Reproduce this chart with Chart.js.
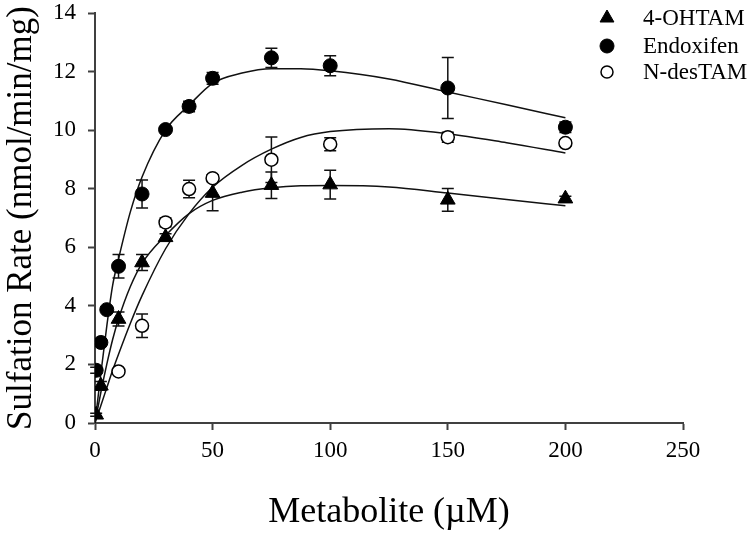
<!DOCTYPE html>
<html>
<head>
<meta charset="utf-8">
<script src="https://cdn.jsdelivr.net/npm/chart.js@4.4.1/dist/chart.umd.min.js"></script>
<style>
html, body { margin: 0; padding: 0; background: #fff; }
#wrap { width: 752px; height: 534px; }
</style>
</head>
<body>
<div id="wrap"><canvas id="chart" width="752" height="534"></canvas></div>
<script>
// measured points (mean ± error)
const concOH = [0.5, 2.5, 10, 20, 30, 50, 75, 100, 150, 200];
const rateOH = [0.28, 1.27, 3.55, 5.48, 6.34, 7.85, 8.12, 8.14, 7.62, 7.66];
const errOH  = [0.05, 0.15, 0.24, 0.27, 0.12, 0.6, 0.45, 0.49, 0.39, 0.08];

const concEndox = [0.5, 2.5, 5, 10, 20, 30, 40, 50, 75, 100, 150, 200];
const rateEndox = [1.8, 2.75, 3.87, 5.35, 7.82, 10.02, 10.81, 11.77, 12.47, 12.2, 11.44, 10.1];
const errEndox  = [0.1, 0.05, 0.1, 0.4, 0.48, 0.1, 0.18, 0.2, 0.33, 0.34, 1.04, 0.18];

const concNdes = [10, 20, 30, 40, 50, 75, 100, 150, 200];
const rateNdes = [1.76, 3.32, 6.85, 7.99, 8.36, 8.99, 9.52, 9.76, 9.56];
const errNdes  = [0.1, 0.4, 0.15, 0.3, 0.12, 0.78, 0.22, 0.17, 0.1];

// fitted curves
const fitX     = [0, 2.5, 5, 7.5, 10, 15, 20, 30, 40, 50, 62.5, 75, 87.5, 100, 125, 150, 175, 200];
const fitOH    = [0, 1.05, 2.0, 2.85, 3.55, 4.65, 5.45, 6.4, 7.15, 7.6, 7.88, 8.03, 8.1, 8.11, 8.06, 7.85, 7.63, 7.42];
const fitEndox = [0, 1.7, 3.3, 4.7, 5.6, 7.2, 8.4, 10.0, 10.85, 11.6, 11.95, 12.1, 12.1, 12.03, 11.75, 11.3, 10.87, 10.42];
const fitNdes  = [0, 0.6, 1.2, 1.8, 2.35, 3.4, 4.35, 5.95, 7.15, 8.05, 8.8, 9.35, 9.75, 9.95, 10.05, 9.88, 9.57, 9.22];

const labels = ['4-OHTAM', 'Endoxifen', 'N-desTAM'];

const serif = "'Liberation Serif', 'Times New Roman', serif";
const axisColor = '#404040';

function pts(xs, ys) {
    return xs.map((x, i) => ({x: x, y: ys[i]}));
}

function curve(ys) {
    return {
        data: pts(fitX, ys),
        showLine: true,
        borderColor: '#111',
        borderWidth: 1.5,
        pointRadius: 0,
        cubicInterpolationMode: 'monotone',
        fill: false,
        isFit: true
    };
}

// error bars, drawn under the markers
const errorBars = {
    id: 'errorBars',
    beforeDatasetsDraw(chart) {
        const ctx = chart.ctx;
        const xs = chart.scales.x, ys = chart.scales.y;
        ctx.save();
        ctx.strokeStyle = '#111';
        ctx.lineWidth = 1.5;
        chart.data.datasets.forEach(ds => {
            if (!ds.yErr) return;
            ds.data.forEach((p, i) => {
                const e = ds.yErr[i];
                const px = xs.getPixelForValue(p.x);
                const top = ys.getPixelForValue(p.y + e);
                const bot = ys.getPixelForValue(p.y - e);
                ctx.beginPath();
                ctx.moveTo(px, top); ctx.lineTo(px, bot);
                ctx.moveTo(px - 6, top); ctx.lineTo(px + 6, top);
                ctx.moveTo(px - 6, bot); ctx.lineTo(px + 6, bot);
                ctx.stroke();
            });
        });
        ctx.restore();
    }
};

// legend in the upper right corner
const cornerLegend = {
    id: 'cornerLegend',
    afterDraw(chart) {
        const ctx = chart.ctx;
        const rows = chart.data.datasets.filter(d => !d.isFit);
        const x0 = 607, tx = 643, ys = [18, 46, 72];
        ctx.save();
        rows.forEach((ds, i) => {
            ctx.fillStyle = ds.backgroundColor;
            ctx.strokeStyle = ds.borderColor;
            ctx.lineWidth = ds.borderWidth;
            Chart.helpers.drawPoint(ctx, {
                pointStyle: ds.pointStyle,
                radius: ds.pointStyle === 'triangle' ? 8 : (ds.backgroundColor === '#fff' ? 6 : 7),
                rotation: 0,
                borderWidth: ds.borderWidth
            }, x0, ys[i]);
            ctx.fillStyle = '#000';
            ctx.font = '23px ' + serif;
            ctx.textBaseline = 'middle';
            ctx.textAlign = 'left';
            ctx.fillText(ds.label, tx, ys[i] + 1);
        });
        ctx.restore();
    }
};

new Chart(document.getElementById('chart'), {
    type: 'scatter',
    data: {
        datasets: [
            {
                label: labels[0],
                data: pts(concOH, rateOH),
                yErr: errOH,
                pointStyle: 'triangle',
                pointRadius: 8.5,
                backgroundColor: '#000',
                borderColor: '#000',
                borderWidth: 1
            },
            {
                label: labels[1],
                data: pts(concEndox, rateEndox),
                yErr: errEndox,
                pointStyle: 'circle',
                pointRadius: 7,
                backgroundColor: '#000',
                borderColor: '#000',
                borderWidth: 1
            },
            {
                label: labels[2],
                data: pts(concNdes, rateNdes),
                yErr: errNdes,
                pointStyle: 'circle',
                pointRadius: 6.5,
                backgroundColor: '#fff',
                borderColor: '#000',
                borderWidth: 1.5
            },
            curve(fitOH),
            curve(fitEndox),
            curve(fitNdes)
        ]
    },
    options: {
        responsive: false,
        animation: false,
        devicePixelRatio: 1,
        layout: { padding: { left: 0, top: 13, right: 69, bottom: 0 } },
        plugins: {
            legend: { display: false },
            tooltip: { enabled: false }
        },
        scales: {
            x: {
                type: 'linear',
                min: 0,
                max: 250,
                ticks: { stepSize: 50, color: '#000', font: { family: serif, size: 23 }, padding: 7 },
                grid: { drawOnChartArea: false, drawTicks: true, tickLength: 7, tickColor: axisColor, tickWidth: 2 },
                border: { display: true, color: axisColor, width: 2 },
                title: { display: true, text: 'Metabolite (µM)', color: '#000', font: { family: serif, size: 36 }, padding: { top: 0, bottom: 0 } },
                afterFit(scale) { scale.height = 111; }
            },
            y: {
                type: 'linear',
                min: 0,
                max: 14,
                ticks: { stepSize: 2, color: '#000', font: { family: serif, size: 23 }, padding: 12 },
                grid: { drawOnChartArea: false, drawTicks: true, tickLength: 7, tickColor: axisColor, tickWidth: 2 },
                border: { display: true, color: axisColor, width: 2 },
                title: { display: true, text: 'Sulfation Rate (nmol/min/mg)', color: '#000', font: { family: serif, size: 35 }, padding: { top: 1, bottom: 0 } },
                afterFit(scale) {
                    scale.width = 95;
                    scale.paddingTop = 0;
                    scale.paddingBottom = 0;
                }
            }
        }
    },
    plugins: [errorBars, cornerLegend]
});
</script>
</body>
</html>
